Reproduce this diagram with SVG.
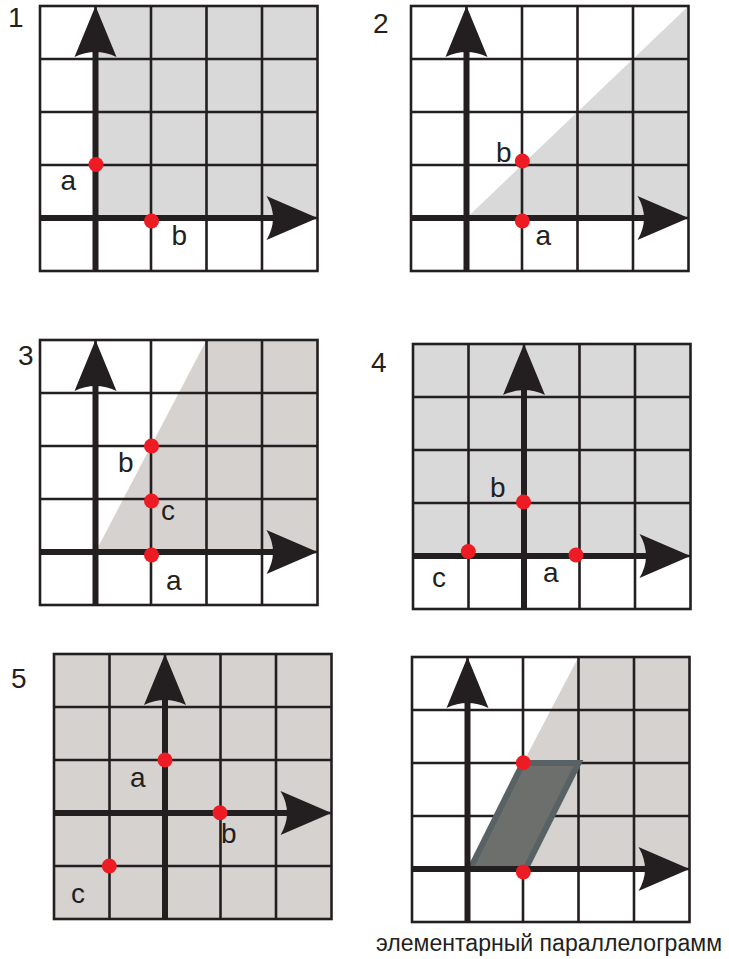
<svg xmlns="http://www.w3.org/2000/svg" xmlns:xlink="http://www.w3.org/1999/xlink" width="729" height="959" viewBox="0 0 729 959">
<style>
.bg{fill:#ffffff}
.g1{fill:#d9d9d9}
.g2{fill:#d5d2d0}
.grid{stroke:#231f20;stroke-width:2.6;fill:none}
.axis{stroke:#231f20;stroke-width:6;fill:none}
.arr{fill:#231f20}
.dot{fill:#ed1c24}
.lbl{font-family:"Liberation Sans",Arial,sans-serif;font-size:28px;fill:#231f20}
.cap{font-family:"Liberation Sans",Arial,sans-serif;font-size:23px;fill:#231f20}
.par{fill:#6d6f6c;stroke:#586265;stroke-width:6;stroke-linejoin:miter}
</style>
<defs>
<g id="grid">
<rect x="0" y="0" width="277.5" height="265" class="grid"/>
<path class="grid" d="M55.5,0V265M111,0V265M166.5,0V265M222,0V265M0,53H277.5M0,106H277.5M0,159H277.5M0,212H277.5"/>
</g>
<path id="au" class="arr" d="M0,0 L21,51 Q0,41 -21,51 Z"/>
<path id="ar" class="arr" d="M0,0 L-51,-22 Q-38,0 -51,22 Z"/>
</defs>
<rect width="729" height="959" class="bg"/>

<g id="panel1" transform="translate(40,6)">
<rect x="55.5" y="0" width="222" height="212" class="g1"/>
<use xlink:href="#grid"/>
<g id="axes1"><path class="axis" d="M55.5,265V8M0,212H270"/><use xlink:href="#au" x="55.5" y="0"/><use xlink:href="#ar" x="277.5" y="212"/></g>
<circle class="dot" cx="56" cy="158.5" r="7.5"/>
<circle class="dot" cx="111.5" cy="215" r="7.5"/>
<text class="lbl" x="20.5" y="184">a</text>
<text class="lbl" x="131.5" y="239">b</text>
</g>
<text class="lbl" x="8" y="27">1</text>

<g id="panel2" transform="translate(411,6)">
<polygon points="55.5,212 277.5,0 277.5,212" class="g1"/>
<use xlink:href="#grid"/>
<g id="axes2"><path class="axis" d="M55.5,265V8M0,212H270"/><use xlink:href="#au" x="55.5" y="0"/><use xlink:href="#ar" x="277.5" y="212"/></g>
<circle class="dot" cx="111.3" cy="155" r="7.5"/>
<circle class="dot" cx="111.3" cy="215" r="7.5"/>
<text class="lbl" x="85" y="156">b</text>
<text class="lbl" x="124.5" y="239">a</text>
</g>
<text class="lbl" x="373" y="33">2</text>

<g id="panel3" transform="translate(40,340)">
<polygon points="55.5,212 166.5,0 277.5,0 277.5,212" class="g2"/>
<use xlink:href="#grid"/>
<g id="axes3"><path class="axis" d="M55.5,265V8M0,212H270"/><use xlink:href="#au" x="55.5" y="0"/><use xlink:href="#ar" x="277.5" y="212"/></g>
<circle class="dot" cx="111.5" cy="106" r="7.5"/>
<circle class="dot" cx="111.5" cy="161" r="7.5"/>
<circle class="dot" cx="111.5" cy="215" r="7.5"/>
<text class="lbl" x="78" y="132">b</text>
<text class="lbl" x="121" y="180">c</text>
<text class="lbl" x="126" y="250">a</text>
</g>
<text class="lbl" x="18" y="365">3</text>

<g id="panel4" transform="translate(413,344)">
<rect x="0" y="0" width="277.5" height="212" class="g1"/>
<use xlink:href="#grid"/>
<g id="axes4"><path class="axis" d="M111,265V8M0,212H270"/><use xlink:href="#au" x="111" y="0"/><use xlink:href="#ar" x="277.5" y="212"/></g>
<circle class="dot" cx="55.3" cy="207.5" r="7.5"/>
<circle class="dot" cx="110.5" cy="158" r="7.5"/>
<circle class="dot" cx="163" cy="211" r="7.5"/>
<text class="lbl" x="77" y="153">b</text>
<text class="lbl" x="19" y="243">c</text>
<text class="lbl" x="130" y="238">a</text>
</g>
<text class="lbl" x="371" y="372">4</text>

<g id="panel5" transform="translate(54,654)">
<rect x="0" y="0" width="277.5" height="265" class="g2"/>
<use xlink:href="#grid"/>
<g id="axes5"><path class="axis" d="M111,265V8M0,159H270"/><use xlink:href="#au" x="111" y="0"/><use xlink:href="#ar" x="277.5" y="159"/></g>
<circle class="dot" cx="111" cy="106" r="7.5"/>
<circle class="dot" cx="166" cy="158.7" r="7.5"/>
<circle class="dot" cx="55.3" cy="212" r="7.5"/>
<text class="lbl" x="76" y="133">a</text>
<text class="lbl" x="167" y="189">b</text>
<text class="lbl" x="17" y="249">c</text>
</g>
<text class="lbl" x="11" y="688">5</text>

<g id="panel6" transform="translate(412,657)">
<polygon points="55.5,212 166.5,0 277.5,0 277.5,212" class="g2"/>
<use xlink:href="#grid"/>
<polygon points="58,212 111,106 166.5,106 113.5,212" class="par"/>
<g id="axes6"><path class="axis" d="M55.5,265V8M0,212H270"/><use xlink:href="#au" x="55.5" y="0"/><use xlink:href="#ar" x="277.5" y="212"/></g>
<circle class="dot" cx="111.3" cy="105.7" r="7.5"/>
<circle class="dot" cx="111.3" cy="215" r="7.5"/>
</g>
<text class="cap" x="376" y="951" textLength="346" lengthAdjust="spacingAndGlyphs">элементарный параллелограмм</text>
</svg>
